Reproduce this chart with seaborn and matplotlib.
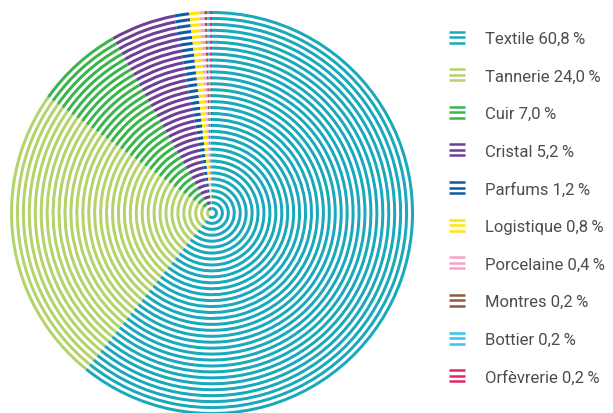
import numpy as np
import matplotlib
matplotlib.use("Agg")
import matplotlib.pyplot as plt
import seaborn as sns
from matplotlib.legend_handler import HandlerBase
from matplotlib.lines import Line2D

# data
sectors = ["Textile", "Tannerie", "Cuir", "Cristal", "Parfums", "Logistique",
           "Porcelaine", "Montres", "Bottier", "Orfèvrerie"]
shares = [60.8, 24.0, 7.0, 5.2, 1.2, 0.8, 0.4, 0.2, 0.2, 0.2]
share_labels = ["60,8", "24,0", "7,0", "5,2", "1,2", "0,8", "0,4", "0,2", "0,2", "0,2"]
colors = ["#19a9bb", "#b4d36a", "#3bb54a", "#6d3f98", "#0e5aa7", "#ffe500",
          "#f5a3c7", "#8f5b3a", "#35c3ef", "#e5246b"]

sns.set_theme(style="white")
plt.rcParams['font.family'] = ['Roboto', 'DejaVu Sans']

fig = plt.figure(figsize=(6.13, 4.14), dpi=100)
R_PX = 202
ax = fig.add_axes([(212 - R_PX) / 613, (200 - R_PX) / 414, 2 * R_PX / 613, 2 * R_PX / 414])
ax.axis('off')

# concentric striped rings
n_rings = 34
ring_w = 3.0 / R_PX
for k in range(1, n_rings + 1):
    r = k / n_rings
    ax.pie(shares, colors=colors, radius=r, startangle=90, counterclock=False,
           wedgeprops=dict(width=ring_w, edgecolor='none', linewidth=0))
ax.set_xlim(-1, 1)
ax.set_ylim(-1, 1)
ax.set_aspect('equal')


class TripleLine(HandlerBase):
    def create_artists(self, legend, orig_handle, xdescent, ydescent,
                       width, height, fontsize, trans):
        c = orig_handle.get_color()
        arts = []
        cy = height / 2 - ydescent
        for dy in (-0.33, 0, 0.33):
            y = cy + dy * fontsize
            ln = Line2D([0 - xdescent, width - xdescent], [y, y], color=c,
                        lw=1.8, transform=trans, solid_capstyle='butt')
            arts.append(ln)
        return arts


handles = [Line2D([], [], color=c) for c in colors]
labels = [f"{s} {v}\u2009%" for s, v in zip(sectors, share_labels)]
fig.legend(handles, labels, handler_map={Line2D: TripleLine()},
           loc='upper left', bbox_to_anchor=(449 / 613, 1 - 32 / 414),
           frameon=False, fontsize=12, labelspacing=1.355, handlelength=0.96,
           handletextpad=1.2, borderpad=0, borderaxespad=0, labelcolor='#4d4d4d')

fig.savefig("out.png", dpi=100)
